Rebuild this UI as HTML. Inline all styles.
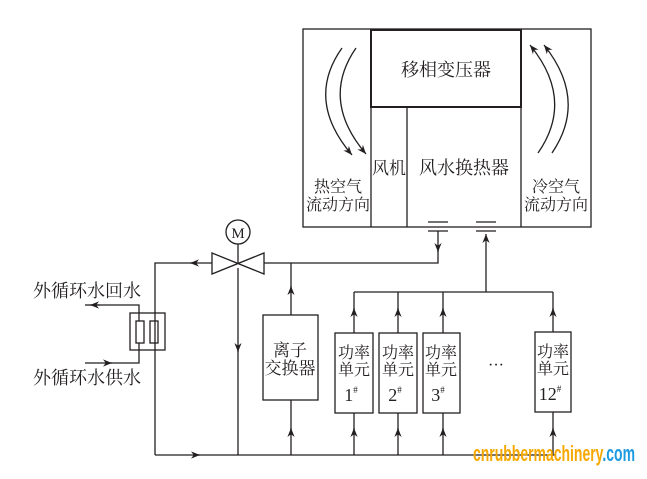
<!DOCTYPE html><html><head><meta charset="utf-8"><style>
body{margin:0;background:#fff;width:647px;height:474px;overflow:hidden}
svg text{font-family:"Liberation Serif","Noto Serif CJK SC",serif;fill:#231f20}
</style></head><body>
<svg width="647" height="474" viewBox="0 0 647 474" xmlns="http://www.w3.org/2000/svg">
<defs><marker id="a" viewBox="0 0 10 10" refX="10" refY="5" markerWidth="9" markerHeight="9" orient="auto" markerUnits="userSpaceOnUse"><path d="M0,1 L10,5 L0,9 L3,5 z" fill="#231f20"/></marker></defs>
<g stroke="#231f20" fill="none" stroke-width="1.3">
<rect x="303" y="29" width="288" height="198"/>
<rect x="371" y="30" width="150" height="77" stroke-width="2"/>
<line x1="371" y1="107" x2="371" y2="227"/><line x1="407" y1="108" x2="407" y2="227"/><line x1="521" y1="107" x2="521" y2="227"/>
<path d="M342,48 Q305,100 352,155" marker-end="url(#a)"/>
<path d="M356,48 Q320,100 366,154" marker-end="url(#a)"/>
<path d="M538,153 Q575,100 530,45" marker-end="url(#a)"/>
<path d="M552,153 Q588,100 544,45" marker-end="url(#a)"/>
<line x1="428" y1="222" x2="448" y2="222"/><line x1="428" y1="231" x2="448" y2="231"/>
<line x1="476" y1="222" x2="496" y2="222"/><line x1="476" y1="231" x2="496" y2="231"/>
<line x1="438" y1="231" x2="438" y2="252" marker-end="url(#a)"/>
<path d="M438,250 V263 H264"/>
<line x1="486" y1="292" x2="486" y2="234" marker-end="url(#a)"/>
<circle cx="238" cy="232" r="12"/>
<line x1="238" y1="244" x2="238" y2="263"/>
<path d="M212,253 L264,274 L264,253 L212,274 Z"/>
<line x1="212" y1="263" x2="190" y2="263" marker-end="url(#a)"/><path d="M192,263 H155 V455"/>
<line x1="155" y1="455" x2="200" y2="455" marker-end="url(#a)"/><line x1="198" y1="455" x2="555" y2="455"/>
<line x1="238" y1="268" x2="238" y2="352" marker-end="url(#a)"/><line x1="238" y1="350" x2="238" y2="455"/>
<rect x="130" y="313" width="35" height="37"/>
<rect x="136" y="321" width="8" height="22"/><rect x="150" y="321" width="8" height="22"/>
<path d="M139,321 V305 H112"/><line x1="112" y1="305" x2="90" y2="305" marker-end="url(#a)"/><line x1="100" y1="305" x2="85" y2="305"/>
<line x1="85" y1="363" x2="112" y2="363" marker-end="url(#a)"/><path d="M110,363 H139 V343"/>
<rect x="263" y="315" width="55" height="85"/>
<line x1="291" y1="455" x2="291" y2="428" marker-end="url(#a)"/><line x1="291" y1="430" x2="291" y2="400"/>
<line x1="291" y1="315" x2="291" y2="286" marker-end="url(#a)"/><line x1="291" y1="288" x2="291" y2="263"/>
<line x1="354" y1="292" x2="553" y2="292"/>
<rect x="335" y="333" width="38" height="80"/><rect x="379" y="333" width="38" height="80"/><rect x="423" y="333" width="37" height="80"/><rect x="535" y="332" width="36" height="80"/>
</g>
<g stroke="#231f20" stroke-width="1.3">
<line x1="354" y1="333" x2="354" y2="308" marker-end="url(#a)"/><line x1="354" y1="310" x2="354" y2="292"/>
<line x1="398" y1="333" x2="398" y2="308" marker-end="url(#a)"/><line x1="398" y1="310" x2="398" y2="292"/>
<line x1="443" y1="333" x2="443" y2="308" marker-end="url(#a)"/><line x1="443" y1="310" x2="443" y2="292"/>
<line x1="553" y1="332" x2="553" y2="308" marker-end="url(#a)"/><line x1="553" y1="310" x2="553" y2="292"/>
<line x1="354" y1="455" x2="354" y2="428" marker-end="url(#a)"/><line x1="354" y1="430" x2="354" y2="413"/>
<line x1="398" y1="455" x2="398" y2="428" marker-end="url(#a)"/><line x1="398" y1="430" x2="398" y2="413"/>
<line x1="443" y1="455" x2="443" y2="428" marker-end="url(#a)"/><line x1="443" y1="430" x2="443" y2="413"/>
<line x1="553" y1="455" x2="553" y2="428" marker-end="url(#a)"/><line x1="553" y1="430" x2="553" y2="412"/>
</g>
<g font-size="17">
<text x="446" y="76" text-anchor="middle" font-size="18">移相变压器</text>
<text x="389" y="174" text-anchor="middle">风机</text>
<text x="464" y="174" text-anchor="middle" font-size="18">风水换热器</text>
<text x="338" y="192" text-anchor="middle" font-size="16">热空气</text><text x="338" y="210" text-anchor="middle" font-size="16">流动方向</text>
<text x="556" y="192" text-anchor="middle" font-size="16">冷空气</text><text x="556" y="210" text-anchor="middle" font-size="16">流动方向</text>
<text x="238" y="238" text-anchor="middle" font-size="15">M</text>
<text x="33" y="297" font-size="18">外循环水回水</text><text x="33" y="384" font-size="18">外循环水供水</text>
<text x="290" y="356" text-anchor="middle">离子</text><text x="290" y="374" text-anchor="middle">交换器</text>
</g>
<g font-size="16">
<text x="354" y="358" text-anchor="middle">功率</text><text x="354" y="375" text-anchor="middle">单元</text><text x="351" y="401" text-anchor="middle" font-size="18">1<tspan font-size="9" dy="-8">#</tspan></text>
<text x="398" y="358" text-anchor="middle">功率</text><text x="398" y="375" text-anchor="middle">单元</text><text x="395" y="401" text-anchor="middle" font-size="18">2<tspan font-size="9" dy="-8">#</tspan></text>
<text x="441" y="358" text-anchor="middle">功率</text><text x="441" y="375" text-anchor="middle">单元</text><text x="438" y="401" text-anchor="middle" font-size="18">3<tspan font-size="9" dy="-8">#</tspan></text>
<text x="553" y="357" text-anchor="middle">功率</text><text x="553" y="374" text-anchor="middle">单元</text><text x="550" y="400" text-anchor="middle" font-size="18">12<tspan font-size="9" dy="-8">#</tspan></text>
<text x="496" y="370" text-anchor="middle">···</text>
</g>
<text x="473" y="461" font-size="22" font-weight="bold" style="font-family:'Liberation Sans Narrow','Liberation Sans',sans-serif" textLength="162" lengthAdjust="spacingAndGlyphs"><tspan fill="#f7a800">cnrubbermachinery</tspan><tspan fill="#1e9be0">.com</tspan></text>
</svg></body></html>
